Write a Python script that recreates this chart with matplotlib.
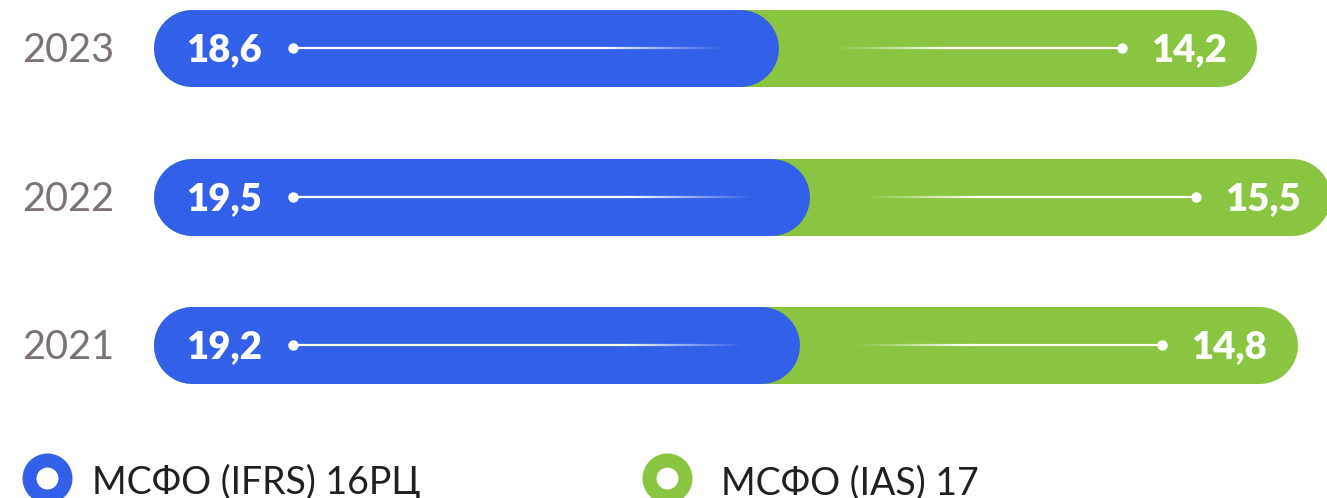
import matplotlib.pyplot as plt
import numpy as np
from matplotlib.collections import LineCollection
from matplotlib.colors import to_rgba

# data
years = ['2023', '2022', '2021']
ifrs16 = [18.6, 19.5, 19.2]
ias17 = [14.2, 15.5, 14.8]
ifrs16_labels = ['18,6', '19,5', '19,2']
ias17_labels = ['14,2', '15,5', '14,8']
legend_names = ['МСФО (IFRS) 16РЦ', 'МСФО (IAS) 17']

BLUE = '#3360e8'
GREEN = '#89c541'
GREY = '#7c7273'
DARK = '#231f20'
FONT = ['Lato', 'Open Sans', 'DejaVu Sans']

W, H = 1327, 498
fig = plt.figure(figsize=(W / 100, H / 100), dpi=100)
ax = fig.add_axes([0, 0, 1, 1])
ax.axis('off')

# scale: pixels per value unit and per row
sx = 33.65
sy = 148.25
x_lo = -153 / sx
y_top = -48.5 / sy
ax.set_xlim(x_lo, x_lo + W / sx)
ax.set_ylim(y_top + H / sy, y_top)


def dx(p):
    return p / sx


def dy(p):
    return p / sy


bar_px = 77
r = dx(bar_px / 2)


def pill(x0, x1, y, color, z):
    # thick line with round caps -> bar with half-circle ends
    ax.plot([x0 + r, x1 - r], [y, y], color=color, lw=bar_px * 0.72,
            solid_capstyle='round', zorder=z)


def fade(x_from, x_to, y):
    # white line fading from alpha 1 at x_from to 0 at x_to
    n = 60
    xs = np.linspace(x_from, x_to, n + 1)
    segs = [[(xs[k], y), (xs[k + 1], y)] for k in range(n)]
    cols = [to_rgba('white', 1 - k / n) for k in range(n)]
    ax.add_collection(LineCollection(segs, colors=cols, linewidths=1.6, zorder=4))


for i, yr in enumerate(years):
    b = ifrs16[i]
    t = ifrs16[i] + ias17[i]
    pill(0, t, i, GREEN, 1)
    pill(0, b, i, BLUE, 2)

    # blue side line
    x_dot = dx(140)
    ax.plot([x_dot, b - dx(180)], [i, i], color='white', lw=1.6, zorder=4)
    fade(b - dx(180), b - dx(58), i)
    ax.plot(x_dot, i, 'o', color='white', ms=6.5, zorder=5)

    # green side line
    g_dot = t - dx(135)
    ax.plot([g_dot, b + dx(170)], [i, i], color='white', lw=1.6, zorder=4)
    fade(b + dx(170), b + dx(58), i)
    ax.plot(g_dot, i, 'o', color='white', ms=6.5, zorder=5)

    ax.text(dx(33), i + dy(13), ifrs16_labels[i], color='white', fontsize=27.5,
            fontweight='heavy', family=FONT, ha='left', va='baseline', zorder=6)
    ax.text(t - dx(30), i + dy(13), ias17_labels[i], color='white', fontsize=27.5,
            fontweight='heavy', family=FONT, ha='right', va='baseline', zorder=6)
    ax.text(dx(22 - 153), i + dy(14), yr, color=GREY, fontsize=28.5,
            family=FONT, ha='left', va='baseline')

# legend
leg_y = dy(478 - 48.5)
for name, col, cx, tx in zip(legend_names, [BLUE, GREEN], [47, 667], [92, 721]):
    ax.plot(dx(cx - 153), leg_y, 'o', ms=25.9, mfc='white', mec=col, mew=10.1,
            clip_on=False)
    ax.text(dx(tx - 153), dy(494 - 48.5), name, color=DARK, fontsize=27,
            family=FONT, ha='left', va='baseline')

fig.savefig('out.png', dpi=100)
